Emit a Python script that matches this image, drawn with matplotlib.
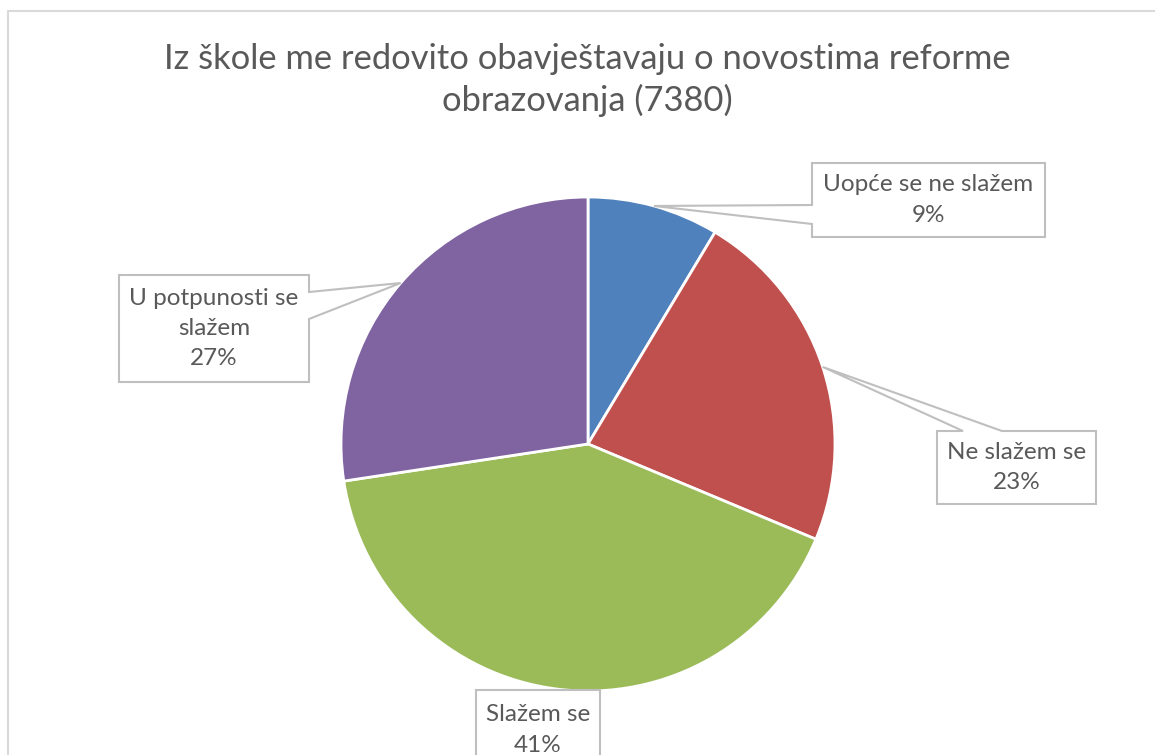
import matplotlib
matplotlib.use("Agg")
import matplotlib.pyplot as plt
from matplotlib.patches import Polygon
import numpy as np

title = "Iz škole me redovito obavještavaju o novostima reforme\nobrazovanja (7380)"
categories = ["Uopće se ne slažem", "Ne slažem se", "Slažem se", "U potpunosti se\nslažem"]
shares = [8.6, 22.7, 41.3, 27.4]
colors = ["#4F81BD", "#C0504D", "#9BBB59", "#8064A2"]

# label boxes in pixel coords (x0, y0, x1, y1), side where the pointer joins, pointer base
boxes = [
    ((812, 163, 1045, 237), "left", (205, 224)),
    ((937, 431, 1096, 504), "top", (963, 1002)),
    ((476, 690, 600, 790), None, None),
    ((119, 275, 309, 382), "right", (292, 319)),
]

plt.rcParams['font.family'] = ['Lato', 'DejaVu Sans']
txt_col = "#595959"
line_col = "#BFBFBF"

fig = plt.figure(figsize=(11.55, 7.55), dpi=100)
ax = fig.add_axes([0, 0, 1, 1])

wedges, _ = ax.pie(shares, colors=colors, startangle=-90, counterclock=True,
                   center=(588, 444), radius=247,
                   wedgeprops=dict(edgecolor="white", linewidth=2))
ax.set_xlim(0, 1155)
ax.set_ylim(755, 0)
ax.set_aspect('equal')
ax.axis('off')


def callout(box, side, base, tip):
    x0, y0, x1, y1 = box
    if side is None:
        pts = [(x0, y0), (x1, y0), (x1, y1), (x0, y1)]
    elif side == "left":
        pts = [(x0, y0), (x1, y0), (x1, y1), (x0, y1), (x0, base[1]), tip, (x0, base[0])]
    elif side == "right":
        pts = [(x0, y0), (x1, y0), (x1, base[0]), tip, (x1, base[1]), (x1, y1), (x0, y1)]
    else:  # top
        pts = [(x0, y0), (base[0], y0), tip, (base[1], y0), (x1, y0), (x1, y1), (x0, y1)]
    ax.add_patch(Polygon(pts, closed=True, facecolor="white", edgecolor=line_col,
                         linewidth=1.5, zorder=3))


for w, cat, val, (box, side, base) in zip(wedges, categories, shares, boxes):
    mid = np.deg2rad((w.theta1 + w.theta2) / 2)
    tip = (w.center[0] + w.r * np.cos(mid), w.center[1] + w.r * np.sin(mid))
    callout(box, side, base, tip)
    x0, y0, x1, y1 = box
    cy = (y0 + y1) / 2 if side is not None else y0 + 40
    ax.text((x0 + x1) / 2, cy, f"{cat}\n{round(val)}%", ha="center", va="center",
            fontsize=17.5, color=txt_col, linespacing=1.55, zorder=4)

ax.text(587, 80, title, ha="center", va="center", fontsize=24.8, color=txt_col,
        linespacing=1.35)

# chart border
ax.plot([8, 8, 1160], [760, 11, 11], color="#D9D9D9", linewidth=1.5, clip_on=False)

fig.savefig("out.png", dpi=100)
